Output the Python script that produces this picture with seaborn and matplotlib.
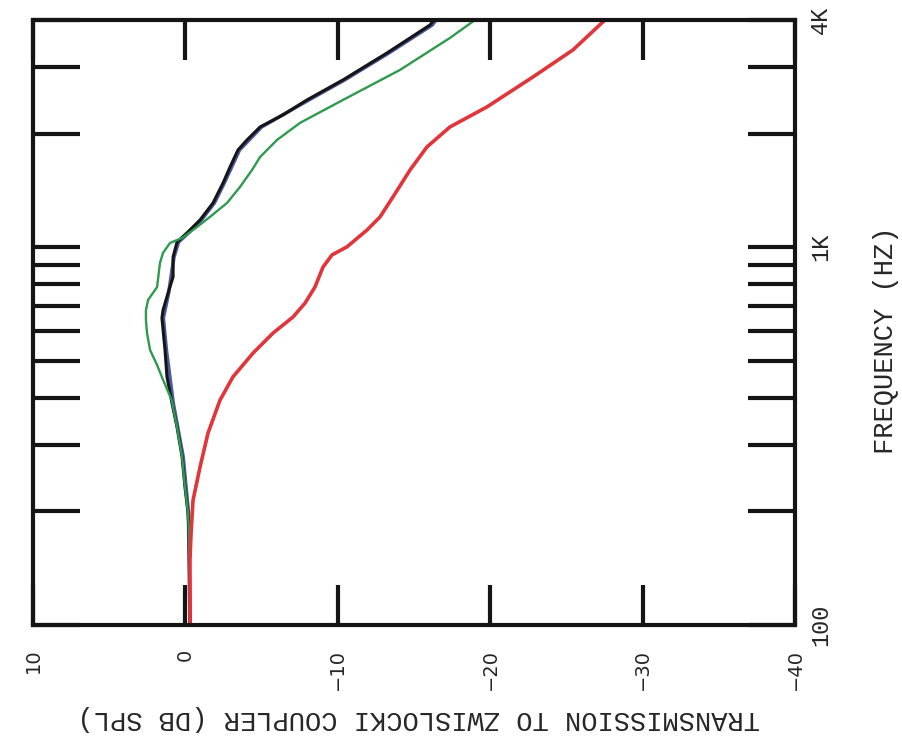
import matplotlib
matplotlib.use("Agg")
import matplotlib.pyplot as plt
from matplotlib.ticker import NullLocator
import seaborn as sns

# Frequenz (Hz) und Übertragung (dB SPL)
freq_black = [100, 175, 198, 232, 279, 334, 387, 454, 535, 650, 682, 757, 835, 943,
              1033, 1092, 1182, 1311, 1481, 1633, 1811, 1925, 2084, 2242, 2457, 2776,
              3272, 3881, 4000]
db_black = [-0.30, -0.24, -0.17, 0.03, 0.22, 0.55, 0.88, 1.21, 1.34, 1.54, 1.47, 1.14, 0.81, 0.81,
            0.55, -0.10, -0.96, -1.81, -2.47, -2.93, -3.45, -4.04, -4.90, -6.40, -7.98, -10.34,
            -13.23, -16.05, -16.31]

freq_blue = [100, 198, 279, 387, 535, 650, 757, 943, 1033, 1092, 1182, 1311, 1481, 1811,
             2084, 2457, 2776, 3272, 3881, 4000]
db_blue = [-0.30, -0.20, 0.15, 0.80, 1.25, 1.45, 1.10, 0.75, 0.45, -0.20, -1.05, -1.90, -2.55, -3.55,
           -5.00, -8.10, -10.45, -13.35, -16.20, -16.45]

freq_green = [100, 175, 198, 232, 279, 334, 394, 446, 488, 535, 593, 642, 682, 726, 785, 909,
              967, 1027, 1059, 1132, 1204, 1311, 1445, 1603, 1735, 1925, 2136, 2457, 2950,
              3586, 4000]
db_green = [-0.30, -0.24, -0.17, 0.03, 0.22, 0.55, 0.90, 1.47, 1.86, 2.32, 2.52, 2.59, 2.59, 2.45, 1.86, 1.67,
            1.47, 1.01, 0.22, -0.76, -1.61, -2.73, -3.58, -4.37, -4.90, -6.01, -7.52, -10.34, -14.08,
            -17.36, -19.00]

freq_red = [100, 149, 175, 214, 262, 322, 394, 454, 525, 593, 654, 712, 785, 887, 955, 1003,
            1112, 1204, 1360, 1603, 1845, 2084, 2355, 2827, 3333, 4000]
db_red = [-0.30, -0.30, -0.37, -0.50, -0.96, -1.48, -2.27, -3.12, -4.44, -5.75, -7.06, -7.85, -8.50,
          -9.03, -9.62, -10.60, -11.92, -12.77, -13.62, -14.74, -15.85, -17.36, -19.79, -22.81,
          -25.43, -27.53]

db_ticks = [10, 0, -10, -20, -30, -40]
db_labels = ["10", "0", "\u221210", "\u221220", "\u221230", "\u221240"]
freq_ticks = [100, 200, 300, 400, 500, 600, 700, 800, 900, 1000, 2000, 3000, 4000]
freq_labels = ["100", "", "", "", "", "", "", "", "", "1K", "", "", "4K"]

sns.set_style("white")
plt.rcParams["font.family"] = ["DejaVu Sans"]

fig = plt.figure(figsize=(9.02, 7.46), dpi=100)
ax = fig.add_axes([0.0366, 0.1622, 0.8448, 0.811])

# Kurven (Achsen gedreht: dB waagrecht, Frequenz senkrecht)
sns.lineplot(x=db_blue, y=freq_blue, sort=False, estimator=None, color="#4b5a9c", lw=2.6, ax=ax)
sns.lineplot(x=db_black, y=freq_black, sort=False, estimator=None, color="#151515", lw=2.2, ax=ax)
sns.lineplot(x=db_green, y=freq_green, sort=False, estimator=None, color="#2f9a4f", lw=1.7, ax=ax)
sns.lineplot(x=db_red, y=freq_red, sort=False, estimator=None, color="#e0353a", lw=2.6, ax=ax)

ax.set_yscale("log")
ax.set_ylim(100, 4000)
ax.set_xlim(10, -40)
ax.set_xticks(db_ticks)
ax.set_xticklabels(db_labels, rotation=90, fontsize=14)
ax.set_yticks(freq_ticks)
ax.set_yticklabels(freq_labels, rotation=90, fontsize=17, family="Liberation Mono")
ax.yaxis.set_minor_locator(NullLocator())
ax.set_xlabel("")
ax.set_ylabel("")

ax.tick_params(axis="x", direction="in", length=29, width=3, color="#151515",
               top=True, bottom=True, pad=17)
ax.tick_params(axis="y", direction="in", length=34, width=3, color="#151515",
               left=True, right=True, labelleft=False, labelright=True, pad=10)
for lab in ax.get_yticklabels():
    lab.set_verticalalignment("center")
for s in ax.spines.values():
    s.set_linewidth(3)
    s.set_color("#151515")

fig.text(419 / 902, 1 - 718 / 746, "TRANSMISSION TO ZWISLOCKI COUPLER (DB SPL)",
         rotation=180, ha="center", va="center", fontsize=19.5, family="Liberation Mono")
fig.text(886 / 902, 1 - 340 / 746, "FREQUENCY (HZ)",
         rotation=90, ha="center", va="center", fontsize=19.5, family="Liberation Mono")

fig.savefig("out.png", dpi=100, facecolor="white")
